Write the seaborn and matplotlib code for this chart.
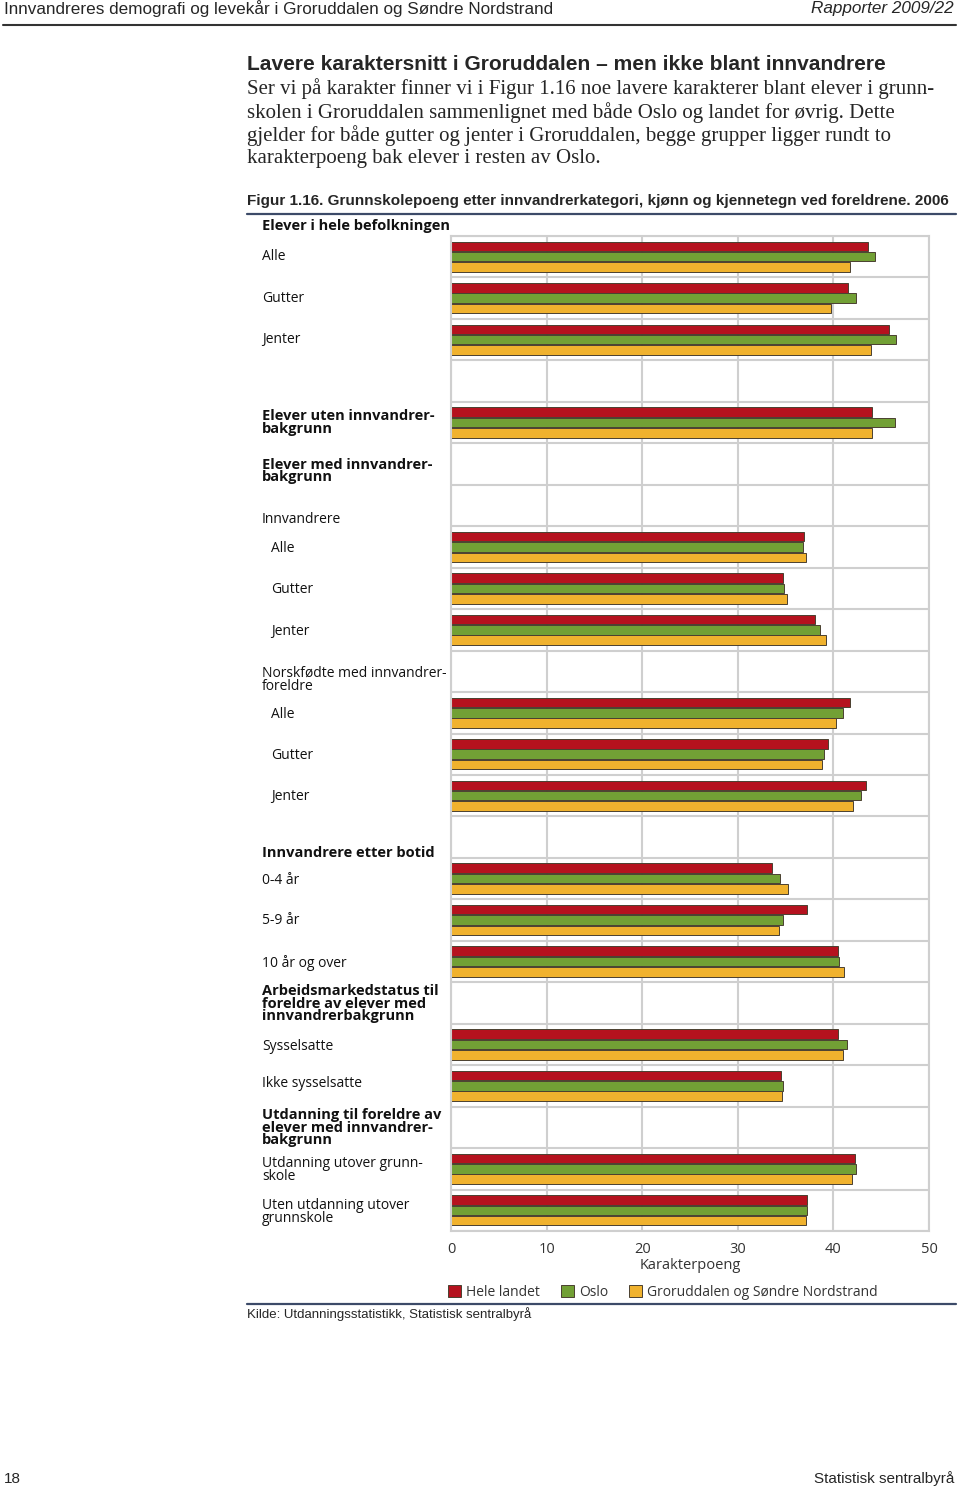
import numpy as np
import pandas as pd
import matplotlib
matplotlib.use('Agg')
import matplotlib.pyplot as plt
from matplotlib.lines import Line2D
from matplotlib.transforms import blended_transform_factory
import seaborn as sns

sns.set_style('white')
plt.rcParams['font.family'] = ['Open Sans', 'DejaVu Sans']

# Rows with bars (top to bottom)
bar_rows = ['Alle', 'Gutter', 'Jenter', 'Uten innvandrerbakgrunn',
            'Innvandrere alle', 'Innvandrere gutter', 'Innvandrere jenter',
            'Norskfødte alle', 'Norskfødte gutter', 'Norskfødte jenter',
            '0-4 år', '5-9 år', '10 år og over',
            'Sysselsatte', 'Ikke sysselsatte',
            'Utdanning utover grunnskole', 'Uten utdanning utover grunnskole']
hele_landet = [43.6, 41.5, 45.8, 44.0, 36.9, 34.7, 38.1, 41.7, 39.4, 43.4,
               33.6, 37.2, 40.5, 40.5, 34.5, 42.3, 37.2]
oslo = [44.4, 42.4, 46.5, 46.4, 36.8, 34.8, 38.6, 41.0, 39.0, 42.9,
        34.4, 34.7, 40.6, 41.4, 34.7, 42.4, 37.2]
groruddalen = [41.7, 39.7, 43.9, 44.0, 37.1, 35.1, 39.2, 40.3, 38.8, 42.1,
               35.3, 34.3, 41.1, 41.0, 34.6, 41.9, 37.1]
regions = ['Hele landet', 'Oslo', 'Groruddalen og Søndre Nordstrand']
colors = ['#B5121E', '#72A035', '#F0B22E']

# full row order, blank rows hold group headings
row_order = ['Alle', 'Gutter', 'Jenter', '_b0', 'Uten innvandrerbakgrunn', '_b1', '_b2',
             'Innvandrere alle', 'Innvandrere gutter', 'Innvandrere jenter', '_b3',
             'Norskfødte alle', 'Norskfødte gutter', 'Norskfødte jenter', '_b4',
             '0-4 år', '5-9 år', '10 år og over', '_b5',
             'Sysselsatte', 'Ikke sysselsatte', '_b6',
             'Utdanning utover grunnskole', 'Uten utdanning utover grunnskole']

# (text, row, indented, bold)
row_labels = [
    ('Elever i hele befolkningen', -0.74, False, True),
    ('Alle', 0, False, False), ('Gutter', 1, False, False), ('Jenter', 2, False, False),
    ('Elever uten innvandrer-\nbakgrunn', 4, False, True),
    ('Elever med innvandrer-\nbakgrunn', 5.17, False, True),
    ('Innvandrere', 6.35, False, False),
    ('Alle', 7.03, True, False), ('Gutter', 8.03, True, False), ('Jenter', 9.03, True, False),
    ('Norskfødte med innvandrer-\nforeldre', 10.21, False, False),
    ('Alle', 11.03, True, False), ('Gutter', 12.03, True, False), ('Jenter', 13.03, True, False),
    ('Innvandrere etter botid', 14.38, False, True),
    ('0-4 år', 15.05, False, False), ('5-9 år', 16.02, False, False),
    ('10 år og over', 17.03, False, False),
    ('Arbeidsmarkedstatus til\nforeldre av elever med\ninnvandrerbakgrunn', 18.02, False, True),
    ('Sysselsatte', 19.06, False, False), ('Ikke sysselsatte', 19.95, False, False),
    ('Utdanning til foreldre av\nelever med innvandrer-\nbakgrunn', 21.01, False, True),
    ('Utdanning utover grunn-\nskole', 22.03, False, False),
    ('Uten utdanning utover\ngrunnskole', 23.04, False, False),
]

df = pd.DataFrame({
    'rad': bar_rows * 3,
    'poeng': hele_landet + oslo + groruddalen,
    'region': np.repeat(regions, len(bar_rows)),
})

W, H = 960, 1489
def fx(x):
    return x / W
def fy(y):
    return 1 - y / H

fig = plt.figure(figsize=(9.6, 14.89), dpi=100)
ax = fig.add_axes([fx(451), fy(1231), (929 - 451) / W, (1231 - 236) / H])

sns.barplot(data=df, x='poeng', y='rad', hue='region', order=row_order,
            hue_order=regions, palette=colors, saturation=1, width=0.75, gap=0.08,
            edgecolor='#4a4030', linewidth=0.7, orient='h', ax=ax, legend=True)

grid_c = '#cfcfcf'
ax.set_xlim(0, 50)
ax.set_ylim(23.5, -0.5)
ax.set_xticks(range(0, 51, 10))
ax.set_yticks([])
ax.set_yticks(np.arange(-0.5, 24, 1), minor=True)
ax.tick_params(axis='both', which='both', length=0)
ax.tick_params(axis='x', pad=8, labelsize=10.5, labelcolor='#333333')
ax.set_axisbelow(True)
ax.grid(axis='x', which='major', color=grid_c, lw=1.5)
ax.grid(axis='y', which='minor', color=grid_c, lw=1.5)
for s in ax.spines.values():
    s.set_color(grid_c)
    s.set_linewidth(1.5)
ax.set_ylabel('')
ax.set_xlabel('Karakterpoeng', fontsize=10.5, color='#333333', labelpad=0.5)

# row labels
tr = blended_transform_factory(fig.transFigure, ax.transData)
for text, row, indent, bold in row_labels:
    ax.text(fx(271 if indent else 262), row, text, transform=tr, ha='left', va='center',
            fontsize=10.5 if bold else 10, fontweight='bold' if bold else 'normal',
            color='#111111', linespacing=0.85, clip_on=False)

sns.move_legend(ax, loc='center left', bbox_to_anchor=(fx(448), fy(1292)),
                bbox_transform=fig.transFigure, ncol=3, frameon=False, title=None,
                fontsize=10, handlelength=0.95, handleheight=0.95,
                handletextpad=0.35, columnspacing=1.5, borderpad=0, borderaxespad=0)
for t in ax.get_legend().get_texts():
    t.set_color('#333333')

# page header and text
page_font = ['Liberation Sans', 'DejaVu Sans']
fig.text(fx(4), fy(9), 'Innvandreres demografi og levekår i Groruddalen og Søndre Nordstrand',
         family=page_font, fontsize=12.3, ha='left', va='center')
fig.text(fx(954), fy(9), 'Rapporter 2009/22', family=page_font, fontsize=12.3,
         style='italic', ha='right', va='center')
fig.add_artist(Line2D([fx(3), fx(956)], [fy(24.5)] * 2, color='#333333', lw=1.5))

fig.text(fx(247), fy(65), 'Lavere karaktersnitt i Groruddalen – men ikke blant innvandrere',
         family=page_font, fontsize=15.1, fontweight='bold', ha='left', va='center')
body = ['Ser vi på karakter finner vi i Figur 1.16 noe lavere karakterer blant elever i grunn-',
        'skolen i Groruddalen sammenlignet med både Oslo og landet for øvrig. Dette',
        'gjelder for både gutter og jenter i Groruddalen, begge grupper ligger rundt to',
        'karakterpoeng bak elever i resten av Oslo.']
for i, line in enumerate(body):
    fig.text(fx(247), fy(89 + i * 23.3), line, family=['Liberation Serif', 'DejaVu Serif'],
             fontsize=15, ha='left', va='center')

fig.text(fx(247), fy(201),
         'Figur 1.16. Grunnskolepoeng etter innvandrerkategori, kjønn og kjennetegn ved foreldrene. 2006',
         family=page_font, fontsize=11, fontweight='bold', ha='left', va='center')
line_c = '#3c4a68'
fig.add_artist(Line2D([fx(247), fx(956)], [fy(214)] * 2, color=line_c, lw=1.6))
fig.add_artist(Line2D([fx(247), fx(956)], [fy(1304)] * 2, color=line_c, lw=1.6))
fig.text(fx(247), fy(1314), 'Kilde: Utdanningsstatistikk, Statistisk sentralbyrå',
         family=page_font, fontsize=9.5, ha='left', va='center')

fig.text(fx(4), fy(1479), '18', family=page_font, fontsize=11, ha='left', va='center')
fig.text(fx(954), fy(1479), 'Statistisk sentralbyrå', family=page_font, fontsize=11,
         ha='right', va='center')

fig.savefig('out.png', dpi=100)
